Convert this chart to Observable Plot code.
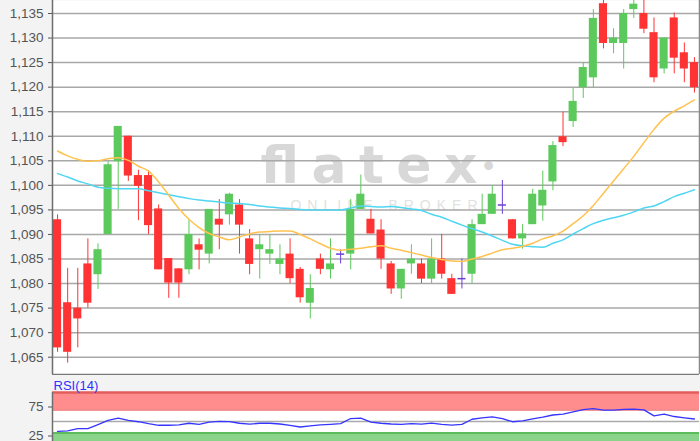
<!DOCTYPE html>
<html>
<head>
<meta charset="utf-8">
<script src="https://cdn.jsdelivr.net/npm/d3@7"></script>
<script src="https://cdn.jsdelivr.net/npm/@observablehq/plot@0.6"></script>
<style>
  html, body { margin: 0; padding: 0; background: #f3f3f3; }
  #wrap { position: relative; width: 700px; height: 441px; overflow: hidden; background: #f3f3f3; }
  #main { position: absolute; left: 0; top: 0; }
  #rsi { position: absolute; left: 0; top: 375px; }
</style>
</head>
<body>
<div id="wrap"><div id="main"></div><div id="rsi"></div></div>
<script>
// ---- data ----
const open = [1.0930, 1.0761, 1.0750, 1.0840, 1.0818, 1.0900, 1.1048, 1.1100, 1.1020, 1.1020,
  1.0952, 1.0851, 1.0830, 1.0828, 1.0879, 1.0860, 1.0931, 1.0940, 1.0960, 1.0891,
  1.0869, 1.0860, 1.0839, 1.0860, 1.0829, 1.0760, 1.0850, 1.0828, 1.0860, 1.0860,
  1.0951, 1.0931, 1.0909, 1.0840, 1.0789, 1.0840, 1.0840, 1.0809, 1.0850, 1.0810,
  1.0810, 1.0819, 1.0920, 1.0941, 1.0960, 1.0930, 1.0891, 1.0920, 1.0958, 1.1007,
  1.1099, 1.1130, 1.1199, 1.1219, 1.1370, 1.1289, 1.1289, 1.1358, 1.1350, 1.1311,
  1.1237, 1.1341, 1.1270, 1.1250];
const close = [1.0669, 1.0660, 1.0728, 1.0760, 1.0869, 1.1042, 1.1120, 1.1019, 1.0998, 1.0918,
  1.0828, 1.0801, 1.0801, 1.0900, 1.0868, 1.0951, 1.0919, 1.0982, 1.0919, 1.0839,
  1.0879, 1.0869, 1.0850, 1.0810, 1.0771, 1.0790, 1.0829, 1.0840, 1.0860, 1.0951,
  1.0982, 1.0901, 1.0850, 1.0789, 1.0829, 1.0850, 1.0809, 1.0850, 1.0819, 1.0778,
  1.0810, 1.0920, 1.0941, 1.0982, 1.0960, 1.0891, 1.0901, 1.0982, 1.0990, 1.1081,
  1.1087, 1.1171, 1.1240, 1.1340, 1.1289, 1.1300, 1.1350, 1.1369, 1.1318, 1.1219,
  1.1300, 1.1259, 1.1237, 1.1199];
const high = [1.0940, 1.0831, 1.0831, 1.0891, 1.0881, 1.1048, 1.1120, 1.1100, 1.1031, 1.1030,
  1.0960, 1.0851, 1.0830, 1.0930, 1.0891, 1.0951, 1.0971, 1.0984, 1.0971, 1.0910,
  1.0899, 1.0899, 1.0879, 1.0891, 1.0833, 1.0818, 1.0860, 1.0891, 1.0869, 1.0971,
  1.1021, 1.0951, 1.0930, 1.0845, 1.0829, 1.0879, 1.0850, 1.0891, 1.0900, 1.0819,
  1.0850, 1.0930, 1.0982, 1.0999, 1.1010, 1.0930, 1.0920, 1.0992, 1.1029, 1.1089,
  1.1149, 1.1199, 1.1250, 1.1358, 1.1378, 1.1319, 1.1358, 1.1378, 1.1378, 1.1341,
  1.1300, 1.1351, 1.1290, 1.1260];
const low = [1.0660, 1.0638, 1.0669, 1.0750, 1.0788, 1.0900, 1.0951, 1.1008, 1.0928, 1.0900,
  1.0828, 1.0770, 1.0770, 1.0818, 1.0828, 1.0840, 1.0869, 1.0919, 1.0860, 1.0818,
  1.0809, 1.0839, 1.0818, 1.0800, 1.0760, 1.0728, 1.0818, 1.0809, 1.0840, 1.0828,
  1.0951, 1.0901, 1.0829, 1.0778, 1.0768, 1.0819, 1.0800, 1.0800, 1.0809, 1.0778,
  1.0789, 1.0800, 1.0920, 1.0941, 1.0941, 1.0891, 1.0870, 1.0920, 1.0927, 1.0989,
  1.1079, 1.1118, 1.1177, 1.1199, 1.1278, 1.1268, 1.1237, 1.1340, 1.1309, 1.1209,
  1.1227, 1.1227, 1.1209, 1.1188];
const maOrange = [1.1070, 1.1060, 1.1053, 1.1049, 1.1050, 1.1054, 1.1056, 1.1051, 1.1039, 1.1029,
  1.1007, 1.0980, 1.0953, 1.0931, 1.0914, 1.0902, 1.0895, 1.0889, 1.0895, 1.0901,
  1.0905, 1.0906, 1.0907, 1.0907, 1.0900, 1.0891, 1.0881, 1.0872, 1.0868, 1.0870,
  1.0872, 1.0875, 1.0877, 1.0872, 1.0868, 1.0863, 1.0858, 1.0853, 1.0849, 1.0846,
  1.0845, 1.0850, 1.0855, 1.0862, 1.0869, 1.0872, 1.0876, 1.0882, 1.0891, 1.0897,
  1.0907, 1.0922, 1.0938, 1.0959, 1.0984, 1.1009, 1.1034, 1.1059, 1.1087, 1.1114,
  1.1137, 1.1151, 1.1162, 1.1174];
const maCyan = [1.1024, 1.1017, 1.1009, 1.1003, 1.0996, 1.0994, 1.0993, 1.0993, 1.0993, 1.0989,
  1.0985, 1.0981, 1.0977, 1.0973, 1.0970, 1.0968, 1.0966, 1.0964, 1.0963, 1.0961,
  1.0958, 1.0956, 1.0954, 1.0953, 1.0951, 1.0950, 1.0950, 1.0950, 1.0950, 1.0954,
  1.0958, 1.0957, 1.0956, 1.0957, 1.0955, 1.0952, 1.0949, 1.0941, 1.0935, 1.0927,
  1.0919, 1.0912, 1.0905, 1.0897, 1.0888, 1.0880, 1.0877, 1.0875, 1.0874, 1.0882,
  1.0889, 1.0901, 1.0912, 1.0922, 1.0929, 1.0934, 1.0939, 1.0946, 1.0954, 1.0958,
  1.0967, 1.0977, 1.0984, 1.0991];
const rsi = [33.0, 33.9, 37.7, 37.7, 44.7, 51.8, 55.7, 52.0, 49.6, 46.3,
  43.5, 43.5, 44.2, 47.0, 45.2, 48.9, 50.1, 49.9, 47.0, 45.4,
  47.0, 47.0, 45.7, 43.5, 40.5, 42.4, 44.2, 45.2, 46.4, 55.1,
  55.7, 49.0, 47.0, 45.7, 45.0, 46.3, 45.6, 47.1, 45.2, 43.7,
  45.0, 53.9, 56.2, 57.9, 55.1, 49.6, 51.0, 54.6, 57.7, 61.2,
  62.6, 66.6, 70.3, 72.3, 69.6, 69.6, 71.0, 71.5, 70.1, 59.7,
  62.6, 58.6, 56.3, 54.3];
const yTicks = [1.065, 1.070, 1.075, 1.080, 1.085, 1.090, 1.095, 1.100, 1.105, 1.110, 1.115, 1.120, 1.125, 1.130, 1.135];
const yDomain = [1.06148, 1.13765];
const rsiTicks = [25, 75];
const rsiDomain = [0, 100];
const rsiUpper = 70, rsiMid = 50, rsiLower = 30;
const rsiLabel = "RSI(14)";
const logoText = "flatex";
const logoSub = "ONLINE BROKER";

// ---- styles ----
const GREEN = "#5cc95c", RED = "#ff3333", PURPLE = "#6a3fd4";
const FONT = "'Liberation Sans', Arial, sans-serif";
const xDomain = [-0.5, open.length - 0.5];
const fmt = d => d3.format(".3f")(d).replace(".", ",");

const candles = open.map((o, i) => ({i, open: o, high: high[i], low: low[i], close: close[i]}));
const colorOf = d => d.close > d.open ? GREEN : d.close < d.open ? RED : PURPLE;
const bodies = candles.filter(d => d.open !== d.close);
const dojis = candles.filter(d => d.open === d.close);
const orangeData = maOrange.map((v, i) => ({i, v}));
const cyanData = maCyan.map((v, i) => ({i, v}));
const rsiData = rsi.map((v, i) => ({i, v}));

const main = Plot.plot({
  width: 700, height: 375,
  marginLeft: 52, marginRight: 1, marginTop: 0, marginBottom: 1,
  x: {domain: xDomain, axis: null},
  y: {domain: yDomain, ticks: yTicks, tickFormat: fmt, tickSize: 4, tickPadding: 5, label: null},
  style: {background: "transparent", fontFamily: FONT, fontSize: "13.5px", color: "#555"},
  marks: [
    Plot.frame({fill: "white", stroke: null}),
    Plot.text([logoText], {text: d => d, frameAnchor: "top-left", textAnchor: "start", lineAnchor: "bottom",
      dx: 208, dy: 182, fontSize: 52, fontWeight: "bold", fontFamily: "DejaVu Sans", fill: "#d8d8d8"}),
    Plot.text(["\u2022"], {text: d => d, frameAnchor: "top-left", textAnchor: "middle", lineAnchor: "middle",
      dx: 436, dy: 167, fontSize: 30, fontFamily: "DejaVu Sans", fill: "#d8d8d8"}),
    Plot.text([logoSub], {text: d => d, frameAnchor: "top-left", textAnchor: "start", lineAnchor: "bottom",
      dx: 238, dy: 209, fontSize: 14, fontFamily: FONT, fill: "#e2e2e2"}),
    Plot.ruleY(yTicks, {stroke: "#a8a8a8", strokeWidth: 1.5}),
    Plot.ruleX(candles, {x: "i", y1: "low", y2: "high", stroke: colorOf, strokeWidth: 1}),
    Plot.rect(bodies, {x1: d => d.i - 0.4, x2: d => d.i + 0.4, y1: "open", y2: "close", fill: colorOf}),
    Plot.ruleY(dojis, {y: "open", x1: d => d.i - 0.4, x2: d => d.i + 0.4, stroke: PURPLE, strokeWidth: 1.5}),
    Plot.line(cyanData, {x: "i", y: "v", stroke: "#4fd6f2", strokeWidth: 1.5, curve: "monotone-x"}),
    Plot.line(orangeData, {x: "i", y: "v", stroke: "#ffc24f", strokeWidth: 1.5, curve: "monotone-x"}),
    Plot.ruleX([xDomain[0]], {stroke: "#6e6e6e", strokeWidth: 1.5}),
    Plot.ruleX([xDomain[1]], {stroke: "#8a8a8a", strokeWidth: 1.5}),
    Plot.ruleY([yDomain[0]], {stroke: "#7a7a7a", strokeWidth: 1.5})
  ]
});
d3.select(main).selectAll("text")
  .filter(function() { return this.textContent === logoText; })
  .attr("textLength", 217).attr("lengthAdjust", "spacing");
d3.select(main).selectAll("text")
  .filter(function() { return this.textContent === logoSub; })
  .attr("textLength", 187).attr("lengthAdjust", "spacing");
document.getElementById("main").appendChild(main);

const rsiPlot = Plot.plot({
  width: 700, height: 75,
  marginLeft: 52, marginRight: 1, marginTop: 17, marginBottom: 0,
  x: {domain: xDomain, axis: null},
  y: {domain: rsiDomain, ticks: rsiTicks, tickSize: 4, tickPadding: 5, label: null},
  style: {background: "transparent", fontFamily: FONT, fontSize: "13.5px", color: "#555"},
  marks: [
    Plot.frame({fill: "white", stroke: null}),
    Plot.rect([rsiUpper], {y1: d => d, y2: () => rsiDomain[1], fill: "#ff8d8d"}),
    Plot.rect([rsiLower], {y1: () => rsiDomain[0], y2: d => d, fill: "#8ad38a"}),
    Plot.ruleY([rsiDomain[1]], {stroke: "#e35d5d", strokeWidth: 2.5}),
    Plot.ruleY([rsiUpper], {stroke: "#f27373", strokeWidth: 1.5}),
    Plot.ruleY([rsiLower], {stroke: "#5cbc5c", strokeWidth: 2}),
    Plot.ruleY([rsiMid], {stroke: "#aaaaaa", strokeWidth: 1.5}),
    Plot.line(rsiData, {x: "i", y: "v", stroke: "#3535ff", strokeWidth: 1.3}),
    Plot.ruleX([xDomain[0]], {stroke: "#6e6e6e", strokeWidth: 1.5}),
    Plot.text([rsiLabel], {text: d => d, frameAnchor: "top-left", textAnchor: "start", lineAnchor: "bottom",
      dx: 1, dy: -3, fontSize: 13, fontFamily: FONT, fill: "#2f2fff"})
  ]
});
document.getElementById("rsi").appendChild(rsiPlot);
</script>
</body>
</html>
